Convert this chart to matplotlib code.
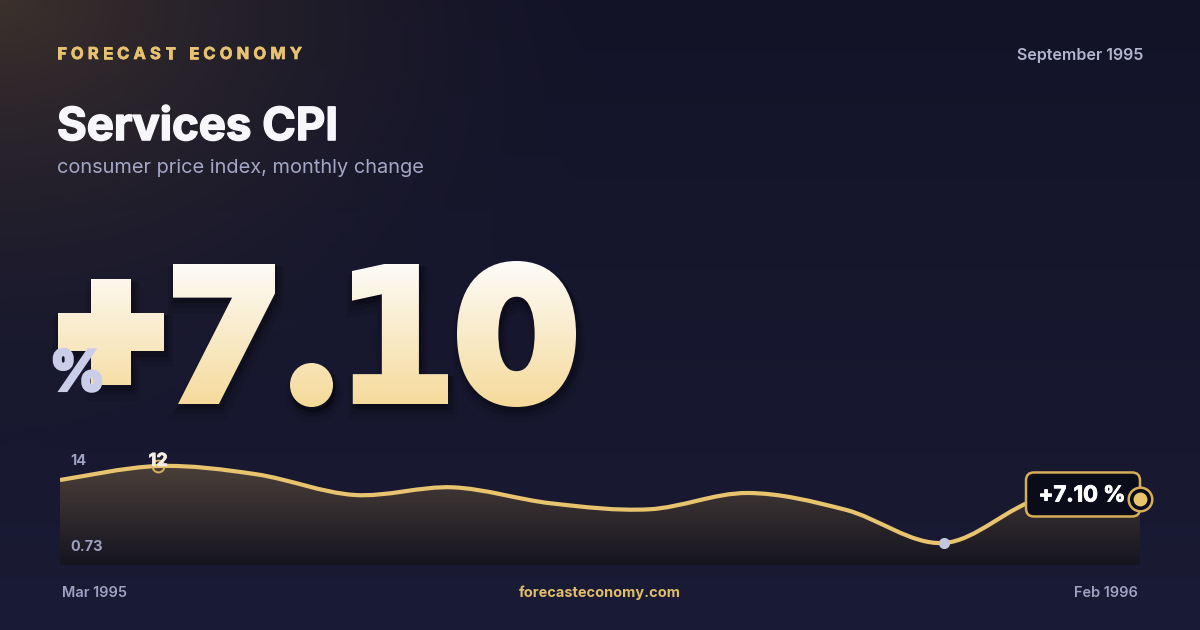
import numpy as np
import matplotlib
matplotlib.use("Agg")
import matplotlib.pyplot as plt
import matplotlib.patheffects as pe
from matplotlib.path import Path
from matplotlib.patches import PathPatch, FancyBboxPatch
from matplotlib.textpath import TextPath, text_to_path
from matplotlib.font_manager import FontProperties
from matplotlib.transforms import Affine2D, Bbox

# ---- data ----
BRAND = "FORECAST ECONOMY"
TITLE = "Services CPI"
SUBTITLE = "consumer price index, monthly change"
PERIOD = "September 1995"
SITE = "forecasteconomy.com"
HEADLINE = "+7.10"
UNIT = "%"
BADGE = "+7.10 %"

months = ["Mar 1995", "Apr 1995", "May 1995", "Jun 1995", "Jul 1995", "Aug 1995",
          "Sep 1995", "Oct 1995", "Nov 1995", "Dec 1995", "Jan 1996", "Feb 1996"]
values = [9.95, 12.0, 10.79, 7.76, 8.88, 6.54, 5.66, 8.05, 5.6, 0.73, 7.3, 7.10]
y_labels = ["14", "0.73"]

# layout of the headline glyphs: box (x0, y0, x1, y1) in px and extra stroke
glyph_boxes = [(58, 279, 164, 385), (173, 264, 275, 404), (290, 363, 333, 407),
               (352, 264, 448, 404), (457, 261, 576, 407)]
glyph_stroke = [18, 12, 0, 6, 14]

W, H = 1200, 630
FONT = "Inter"
GOLD = "#e9c46f"

plt.rcParams['font.family'] = [FONT, 'DejaVu Sans']

fig = plt.figure(figsize=(W / 100, H / 100), dpi=100)

# background: dark navy with warm glow in the top-left corner
yy, xx = np.mgrid[0:H, 0:W]
t = (yy / H)[..., None]
bg = np.array([19, 19, 40]) * (1 - t) + np.array([26, 27, 52]) * t
d = np.sqrt(xx ** 2 + (yy * 1.4) ** 2) / 640
w = (np.clip(1 - d, 0, 1) ** 1.8)[..., None]
bg = bg * (1 - w) + np.array([60, 49, 44]) * w

bg_ax = fig.add_axes([0, 0, 1, 1])
bg_ax.set_axis_off()
bg_ax.set_autoscale_on(False)
bg_ax.set_xlim(0, W)
bg_ax.set_ylim(H, 0)
bg_ax.imshow(bg / 255, extent=(0, W, H, 0), aspect='auto', zorder=0)


def px(v):
    return v * 0.72


def thick(lw_px, color):
    return [pe.withStroke(linewidth=px(lw_px), foreground=color)]


def fitted_path(s, box, prop):
    tp = TextPath((0, 0), s, size=100, prop=prop)
    ext = tp.get_extents()
    x0, y0, x1, y1 = box
    tr = (Affine2D().translate(-ext.x0, -ext.y1)
          .scale((x1 - x0) / ext.width, -(y1 - y0) / ext.height)
          .translate(x0, y0))
    return tr.transform_path(tp)


def spaced_text(ax, x, y, s, size, width, **kw):
    prop = FontProperties(family=FONT, weight=kw.get('weight', 'bold'), size=size)
    adv = []
    for ch in s:
        if ch == " ":
            adv.append(size * 0.28 / 0.72)
        else:
            wd, _, _ = text_to_path.get_text_width_height_descent(ch, prop, ismath=False)
            adv.append(wd / 0.72)
    track = (width - sum(adv)) / (len(s) - 1)
    for ch, a in zip(s, adv):
        if ch != " ":
            ax.text(x, y, ch, fontsize=size, va='baseline', ha='left', **kw)
        x += a + track


# header
spaced_text(bg_ax, 57, 59, BRAND, px(16.5), 245, color="#e6c271", weight='bold',
            path_effects=thick(0.7, "#e6c271"))
bg_ax.text(1143, 60, PERIOD, fontsize=px(16), color="#b3b5d1", weight='semibold',
           ha='right', va='baseline')
bg_ax.text(57, 140, TITLE, fontsize=px(45.5), color="#f7f7fb", weight='bold',
           va='baseline', path_effects=thick(1.6, "#f7f7fb"))
bg_ax.text(57, 173, SUBTITLE, fontsize=px(20), color="#a4a6c6", va='baseline')

# big headline number: glyphs fitted to boxes, thickened, gradient by bands
top_c = np.array([253, 252, 250])
bot_c = np.array([244, 216, 150])
y_top, y_bot = 258, 410
glyphs = []
for ch, box, s in zip(HEADLINE, glyph_boxes, glyph_stroke):
    fam = 'DejaVu Sans' if ch == '1' else FONT
    prop = FontProperties(family=fam, weight='bold')
    h = s / 2
    inner = (box[0] + h, box[1] + h, box[2] - h, box[3] - h)
    glyphs.append((fitted_path(ch, inner, prop), s))

for path, s in glyphs:
    for off, extra, a in [(9, 14, 0.10), (6, 8, 0.16), (4, 3, 0.25)]:
        sh = Affine2D().translate(2, off).transform_path(path)
        bg_ax.add_patch(PathPatch(sh, fc="#05050d", ec="#05050d", lw=px(s + extra),
                                  alpha=a, zorder=2, joinstyle='miter'))

step = 2
for yb in range(y_top, y_bot, step):
    f = (yb - y_top) / (y_bot - y_top)
    c = (top_c * (1 - f) + bot_c * f) / 255
    clip = Bbox.from_extents(0, H - (yb + step), W, H - yb)
    for path, s in glyphs:
        p = PathPatch(path, fc=c, ec=c if s else 'none', lw=px(s), zorder=3,
                      joinstyle='miter')
        bg_ax.add_patch(p)
        p.set_clip_box(clip)

unit = fitted_path(UNIT, (54.5, 349.5, 100.5, 391), FontProperties(family=FONT, weight='bold'))
bg_ax.add_patch(PathPatch(unit, fc="#cacde7", ec="#cacde7", lw=px(3.5), zorder=4,
                          joinstyle='miter'))

# footer
bg_ax.text(62, 597, months[0], fontsize=px(14.5), color="#9fa3c3", weight='semibold',
           va='baseline')
bg_ax.text(600, 597, SITE, fontsize=px(14.5), color="#e2bd6c", weight='bold',
           ha='center', va='baseline')
bg_ax.text(1138, 597, months[-1], fontsize=px(14.5), color="#9fa3c3", weight='semibold',
           ha='right', va='baseline')

# ---- sparkline ----
ax = fig.add_axes([60 / W, (H - 565) / H, 1080 / W, 110 / H])
ax.set_axis_off()
x = np.arange(len(values))
y = np.array(values, dtype=float)
vmin, vmax = y.min(), y.max()
span = vmax - vmin
lo, hi = vmin - 0.286 * span, vmax + 0.143 * span

# catmull-rom curve as cubic bezier segments
pts = np.column_stack([x, y])
ext = np.vstack([pts[0], pts, pts[-1]])
verts = [tuple(pts[0])]
codes = [Path.MOVETO]
for i in range(len(pts) - 1):
    p0, p1, p2, p3 = ext[i], ext[i + 1], ext[i + 2], ext[i + 3]
    verts += [tuple(p1 + (p2 - p0) / 6), tuple(p2 - (p3 - p1) / 6), tuple(p2)]
    codes += [Path.CURVE4] * 3
line_path = Path(verts, codes)
area_path = Path(verts + [(x[-1], lo), (x[0], lo), verts[0]],
                 codes + [Path.LINETO, Path.LINETO, Path.CLOSEPOLY])

area = PathPatch(area_path, fc='none', ec='none', transform=ax.transData)
ax.add_patch(area)
g = np.linspace(0, 1, 256)[:, None, None]
fill = np.array([74, 63, 57]) * (1 - g) + np.array([21, 20, 32]) * g
fim = ax.imshow(fill / 255, extent=(x[0], x[-1], lo, vmax), aspect='auto',
                origin='upper', zorder=1)
fim.set_clip_path(area)
ax.set_xlim(x[0], x[-1])
ax.set_ylim(lo, hi)

ax.add_patch(PathPatch(line_path, fc='none', ec=GOLD, lw=3, zorder=3,
                       capstyle='butt'))

imax = int(np.argmax(y))
imin = int(np.argmin(y))
ax.plot(x[imax], y[imax], 'o', ms=8.5, mfc='none', mec="#d8b25e", mew=1.4, zorder=4)
ax.annotate(f"{y[imax]:.0f}", (x[imax], y[imax]), xytext=(0, 4.5),
            textcoords='offset pixels', ha='center', va='center',
            fontsize=px(18), weight='bold', color="#f4eee2", zorder=5,
            path_effects=thick(0.8, "#f4eee2"))
ax.plot(x[imin], y[imin], 'o', ms=8, mfc="#c3c6de", mec='none', zorder=4)

ax.text(10 / 1080, 0.945, y_labels[0], transform=ax.transAxes, fontsize=px(14.5),
        color="#9ea2c0", weight='bold', va='center', ha='left')
ax.text(10 / 1080, 0.164, y_labels[1], transform=ax.transAxes, fontsize=px(14.5),
        color="#9ea2c0", weight='bold', va='center', ha='left')

# ---- end badge, placed at the last data point ----
ov = fig.add_axes([0, 0, 1, 1], zorder=5)
ov.set_axis_off()
ov.set_xlim(0, W)
ov.set_ylim(H, 0)
dx, dy = ax.transData.transform((x[-1], y[-1]))
bx, by = dx, H - dy
bw, bh = 114, 44
ov.add_patch(FancyBboxPatch((bx - bw, by - 5 - bh / 2), bw, bh,
                            boxstyle="round,pad=0,rounding_size=8",
                            fc="#0b0c1a", ec="#d6ad58", lw=1.8))
ov.text(bx - bw / 2 - 1, by - 4, BADGE, fontsize=px(22), weight='bold',
        color="#ffffff", ha='center', va='center', path_effects=thick(0.9, "#ffffff"))
ov.plot(bx, by, 'o', ms=17, mfc="#0b0c1a", mec="#d6ad58", mew=1.8)
ov.plot(bx, by, 'o', ms=10, mfc=GOLD, mec='none')

fig.savefig("out.png", dpi=100)
